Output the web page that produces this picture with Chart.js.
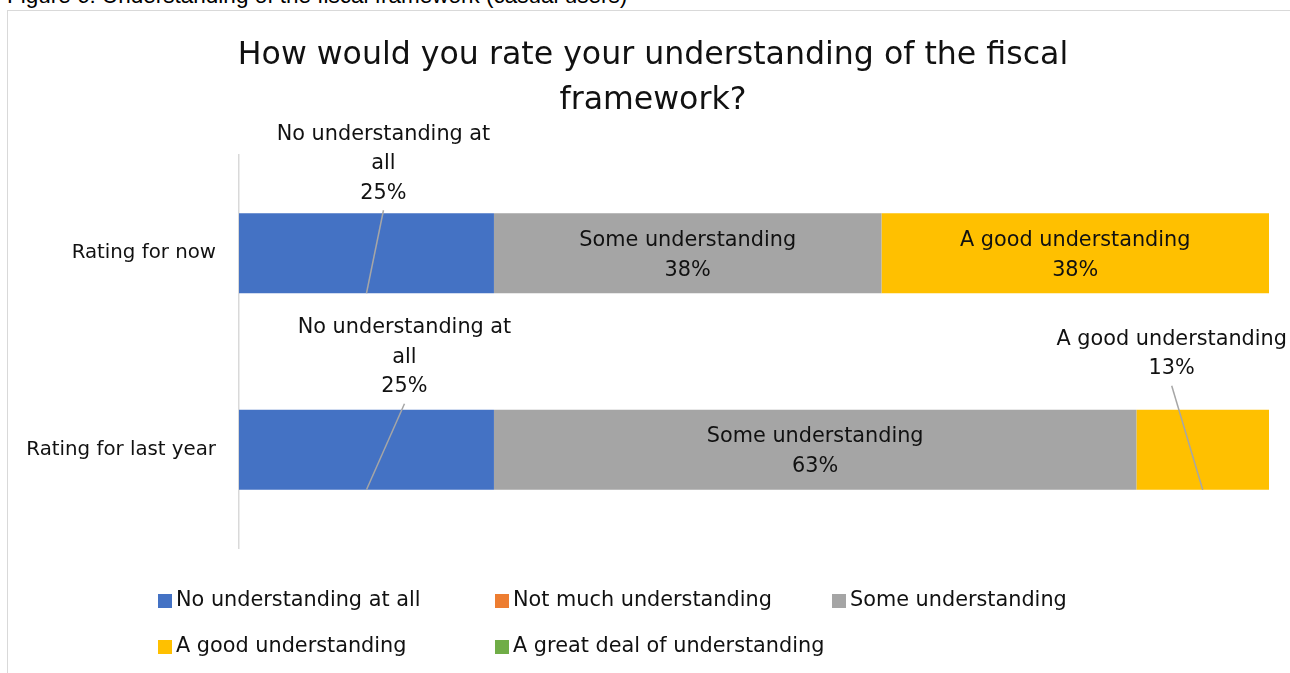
<!DOCTYPE html>
<html>
<head>
<meta charset="utf-8">
<script src="https://cdn.jsdelivr.net/npm/chart.js@4.4.1/dist/chart.umd.min.js"></script>
<style>
  html, body { margin: 0; padding: 0; background: #fff; overflow: hidden; }
  body { width: 1290px; height: 673px; position: relative; }
  #caption {
    position: absolute; left: 7px; top: -15px;
    font-family: "Liberation Sans", Arial, sans-serif; font-size: 22.5px; line-height: 22px;
    color: #000; white-space: nowrap;
  }
  #frame {
    position: absolute; left: 7px; top: 10px; width: 1400px; height: 800px;
    border: 1px solid #d9d9d9; box-sizing: border-box;
  }
  #wrap { position: absolute; left: 0; top: 0; width: 1290px; height: 673px; }
</style>
</head>
<body>
<div id="caption">Figure 6: Understanding of the fiscal framework (casual users)</div>
<div id="frame"></div>
<div id="wrap"><canvas id="chart" width="1290" height="673"></canvas></div>
<script>
var categories = ['Rating for now', 'Rating for last year'];
var seriesNames = ['No understanding at all', 'Not much understanding', 'Some understanding', 'A good understanding', 'A great deal of understanding'];
var noUnderstanding = [25, 25];
var notMuch = [0, 0];
var someUnderstanding = [38, 63];
var goodUnderstanding = [38, 13];
var greatDeal = [0, 0];
var colors = ['#4472C4', '#ED7D31', '#A5A5A5', '#FFC000', '#70AD47'];
var titleLines = ['How would you rate your understanding of the fiscal', 'framework?'];

var FONT = '"DejaVu Sans", sans-serif';
var TEXT = '#111';

// each row is 100% of its own total
var rowTotal = categories.map(function(c, i){
	return noUnderstanding[i] + notMuch[i] + someUnderstanding[i] + goodUnderstanding[i] + greatDeal[i];
});

// labels that sit above the bar with a leader line: key is dataset-row
var outsideLabels = {
	'0-0': { dx: 17, dy: -20 },
	'0-1': { dx: 38, dy: -23 },
	'3-1': { dx: -31, dy: -41 }
};

function wrapText(ctx, text, maxWidth){
	var words = text.split(' ');
	var lines = [];
	var line = '';
	for (var i = 0; i < words.length; i++){
		var test = line ? line + ' ' + words[i] : words[i];
		if (line && ctx.measureText(test).width > maxWidth){
			lines.push(line);
			line = words[i];
		}else{
			line = test;
		}
	}
	lines.push(line);
	return lines;
}

var decorations = {
	id: 'decorations',
	afterDatasetsDraw: function(chart){
		var ctx = chart.ctx;
		ctx.save();
		ctx.font = '20.8px ' + FONT;
		ctx.fillStyle = TEXT;
		ctx.textAlign = 'center';
		ctx.textBaseline = 'middle';
		var lh = 29.5;

		chart.data.datasets.forEach(function(ds, di){
			var meta = chart.getDatasetMeta(di);
			meta.data.forEach(function(bar, i){
				var v = ds.data[i];
				if (!v) return;
				var cx = (bar.base + bar.x) / 2;
				var top = bar.y - bar.height / 2;
				var bottom = bar.y + bar.height / 2;
				var out = outsideLabels[di + '-' + i];
				if (out){
					var lines = wrapText(ctx, ds.label, 236);
					lines.push(v + '%');
					var lx = cx + out.dx;
					var lastY = top + out.dy;
					for (var k = 0; k < lines.length; k++){
						ctx.fillText(lines[k], lx, lastY - (lines.length - 1 - k) * lh);
					}
					ctx.strokeStyle = '#a6a6a6';
					ctx.lineWidth = 1.5;
					ctx.beginPath();
					ctx.moveTo(lx, lastY + 17);
					ctx.lineTo(cx, bottom);
					ctx.stroke();
				}else{
					ctx.fillText(ds.label, cx, bar.y - 13);
					ctx.fillText(v + '%', cx, bar.y + 17);
				}
			});
		});
		ctx.restore();
	},
	afterDraw: function(chart){
		var ctx = chart.ctx;
		ctx.save();
		ctx.fillStyle = TEXT;
		ctx.textBaseline = 'middle';

		// title
		ctx.font = '31.6px ' + FONT;
		ctx.textAlign = 'center';
		titleLines.forEach(function(t, k){
			ctx.fillText(t, 653, 56 + k * 45);
		});

		// legend laid out in a fixed grid
		ctx.font = '20.8px ' + FONT;
		ctx.textAlign = 'left';
		chart.data.datasets.forEach(function(ds, di){
			var col = di % 3;
			var row = Math.floor(di / 3);
			var x = 158 + col * 337;
			var y = 601 + row * 46;
			ctx.fillStyle = ds.backgroundColor;
			ctx.fillRect(x, y - 7, 14, 14);
			ctx.fillStyle = TEXT;
			ctx.fillText(ds.label, x + 18, y);
		});
		ctx.restore();
	}
};

var seriesData = [noUnderstanding, notMuch, someUnderstanding, goodUnderstanding, greatDeal];

new Chart(document.getElementById('chart'), {
	type: 'bar',
	data: {
		labels: categories,
		datasets: seriesNames.map(function(name, i){
			return {
				label: name,
				data: seriesData[i],
				backgroundColor: colors[i],
				borderWidth: 0
			};
		})
	},
	options: {
		indexAxis: 'y',
		responsive: false,
		animation: false,
		devicePixelRatio: 1,
		barPercentage: 0.407,
		categoryPercentage: 1,
		layout: { padding: { left: 0, right: 21, top: 155, bottom: 125 } },
		plugins: {
			legend: { display: false },
			title: { display: false },
			tooltip: { enabled: false }
		},
		scales: {
			x: {
				stacked: true,
				display: false,
				min: 0,
				max: Math.max.apply(null, rowTotal)
			},
			y: {
				stacked: true,
				grid: { display: false, drawTicks: false },
				border: { display: true, color: '#d9d9d9', width: 1.5 },
				ticks: {
					padding: 23,
					color: TEXT,
					font: { family: FONT, size: 19.8 }
				},
				afterFit: function(scale){
					scale.width = 239;
				}
			}
		}
	},
	plugins: [decorations]
});
</script>
</body>
</html>
